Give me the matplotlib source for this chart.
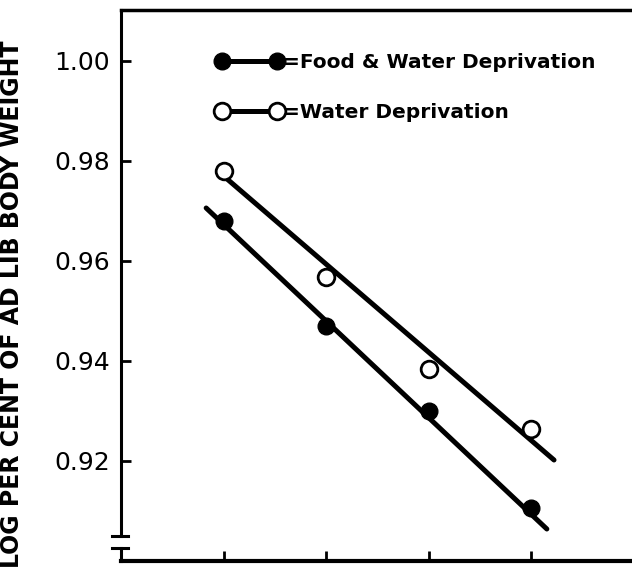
import matplotlib.pyplot as plt
from matplotlib.lines import Line2D
import matplotlib.transforms as mtransforms

# data
days = [1, 2, 3, 4]
food_water = [0.968, 0.947, 0.930, 0.9106]
water_only = [0.978, 0.9568, 0.9384, 0.9264]
# fitted lines (endpoints)
fit_fw_x = [0.83, 4.15]
fit_fw_y = [0.9706, 0.9064]
fit_w_x = [1.0, 4.22]
fit_w_y = [0.977, 0.9202]
yticks = [0.92, 0.94, 0.96, 0.98, 1.00]
ytick_labels = ["0.92", "0.94", "0.96", "0.98", "1.00"]

fig = plt.figure(figsize=(6.32, 5.72), dpi=100)
ax = fig.add_axes([121/632, 11/572, 511/632, 551/572])

lw = 3.6
ms = 12
ax.plot(fit_fw_x, fit_fw_y, c="black", lw=lw, solid_capstyle="round")
ax.plot(fit_w_x, fit_w_y, c="black", lw=lw, solid_capstyle="round")
ax.plot(days, food_water, "o", ms=ms, mfc="black", mec="black", ls="none", zorder=3)
ax.plot(days, water_only, "o", ms=ms, mfc="white", mec="black", mew=2, ls="none", zorder=3)

ax.set_xlim(0, 4.98)
ax.set_ylim(0.900, 1.0102)
ax.set_xticks(days)
ax.set_xticklabels([])
ax.set_yticks(yticks)
ax.set_yticklabels(ytick_labels, fontsize=18)
ax.tick_params(axis="both", direction="in", length=7, width=2, pad=8)

ax.spines["right"].set_visible(False)
ax.spines["left"].set_visible(False)
ax.spines["top"].set_linewidth(2.5)
ax.spines["bottom"].set_linewidth(3)

# broken left axis
trans = mtransforms.blended_transform_factory(ax.transAxes, ax.transData)
ax.plot([0, 0], [0.9050, 1.0102], c="black", lw=2.2, transform=trans, clip_on=False)
ax.plot([-0.017, 0.013], [0.9050, 0.9050], c="black", lw=2.2, transform=trans, clip_on=False)
ax.plot([-0.017, 0.013], [0.9026, 0.9026], c="black", lw=2.2, transform=trans, clip_on=False)
ax.plot([0, 0], [0.900, 0.9026], c="black", lw=2.2, transform=trans, clip_on=False)

ax.set_ylabel("LOG PER CENT OF AD LIB BODY WEIGHT", fontsize=17, fontweight="bold")
ax.yaxis.set_label_coords(-0.19, 0.466)

handles = [
    Line2D([], [], c="black", lw=lw, marker="o", ms=ms, mfc="black", mec="black"),
    Line2D([], [], c="black", lw=lw, marker="o", ms=ms, mfc="white", mec="black", mew=2),
]
labels = ["=Food & Water Deprivation", "=Water Deprivation"]
ax.legend(handles, labels, loc="upper left", bbox_to_anchor=(0.186, 0.922),
          frameon=False, numpoints=2, handlelength=3.33, handletextpad=0.0,
          labelspacing=1.56, borderpad=0, borderaxespad=0,
          prop={"size": 14.5, "weight": "bold"})

fig.savefig("out.png", dpi=100)
